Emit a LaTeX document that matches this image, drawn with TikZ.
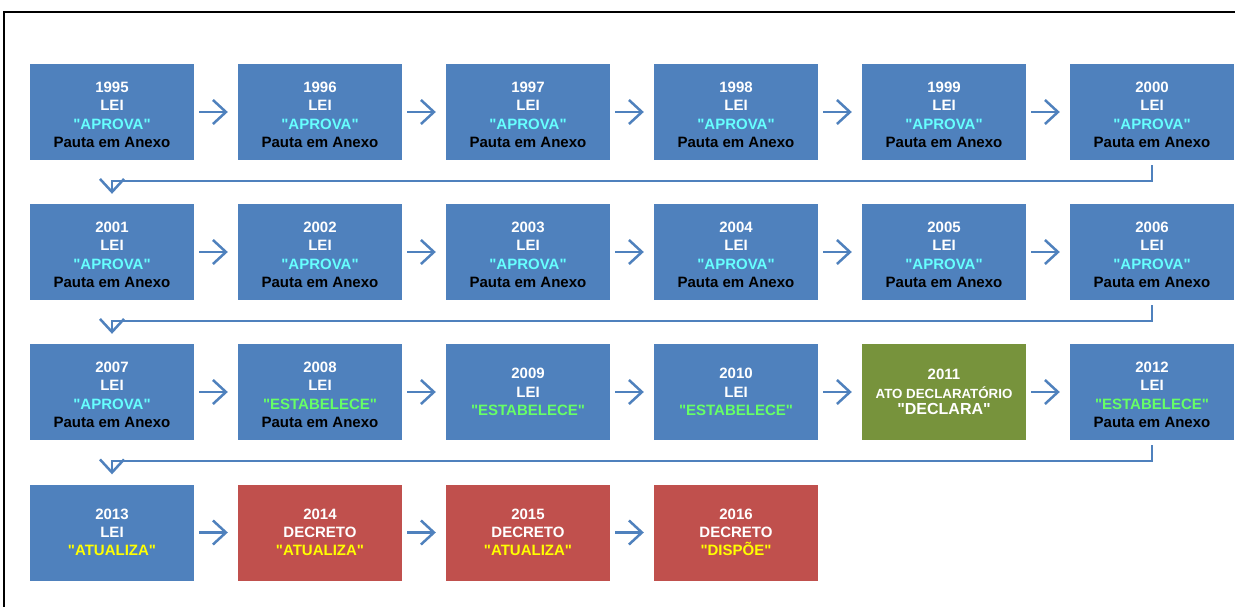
\documentclass[tikz,border=0pt]{standalone}
\usepackage{fontspec}
\setmainfont{Liberation Sans}[Ligatures=TeXOff]
\usetikzlibrary{arrows.meta}
\definecolor{bxblue}{HTML}{4F81BD}
\definecolor{bxgreen}{HTML}{77933C}
\definecolor{bxred}{HTML}{C0504D}
\definecolor{txcyan}{HTML}{66FFFF}
\definecolor{txgreen}{HTML}{66FF66}
\definecolor{txyellow}{HTML}{FFFF00}
\newcommand{\toprule}{\rule{0pt}{16pt}}
\begin{document}
\begin{tikzpicture}[x=1pt,y=-1pt,
  box/.style={minimum width=164pt,minimum height=96pt,inner sep=0pt,align=center,
    text=white,font=\fontsize{15}{18.3}\selectfont\bfseries},
  lei/.style={box,fill=bxblue},
  atobox/.style={box,fill=bxgreen},
  decbox/.style={box,fill=bxred},
  arr/.style={draw=bxblue,line width=2.5pt,-{Straight Barb[length=13pt,width=24pt]}}]
\path[use as bounding box,clip] (0,0) rectangle (1235,607);
\fill[white] (0,0) rectangle (1235,607);
\draw[line width=2pt] (4,12) rectangle (1260,640);

% row 1
\node[lei] (b1) at (112,112) {\toprule1995\\LEI\\\textcolor{txcyan}{"APROVA"}\\\textcolor{black}{Pauta em Anexo}};
\node[lei] (b2) at (320,112) {\toprule1996\\LEI\\\textcolor{txcyan}{"APROVA"}\\\textcolor{black}{Pauta em Anexo}};
\node[lei] (b3) at (528,112) {\toprule1997\\LEI\\\textcolor{txcyan}{"APROVA"}\\\textcolor{black}{Pauta em Anexo}};
\node[lei] (b4) at (736,112) {\toprule1998\\LEI\\\textcolor{txcyan}{"APROVA"}\\\textcolor{black}{Pauta em Anexo}};
\node[lei] (b5) at (944,112) {\toprule1999\\LEI\\\textcolor{txcyan}{"APROVA"}\\\textcolor{black}{Pauta em Anexo}};
\node[lei] (b6) at (1152,112) {\toprule2000\\LEI\\\textcolor{txcyan}{"APROVA"}\\\textcolor{black}{Pauta em Anexo}};
% row 2
\node[lei] (b7) at (112,252) {\toprule2001\\LEI\\\textcolor{txcyan}{"APROVA"}\\\textcolor{black}{Pauta em Anexo}};
\node[lei] (b8) at (320,252) {\toprule2002\\LEI\\\textcolor{txcyan}{"APROVA"}\\\textcolor{black}{Pauta em Anexo}};
\node[lei] (b9) at (528,252) {\toprule2003\\LEI\\\textcolor{txcyan}{"APROVA"}\\\textcolor{black}{Pauta em Anexo}};
\node[lei] (b10) at (736,252) {\toprule2004\\LEI\\\textcolor{txcyan}{"APROVA"}\\\textcolor{black}{Pauta em Anexo}};
\node[lei] (b11) at (944,252) {\toprule2005\\LEI\\\textcolor{txcyan}{"APROVA"}\\\textcolor{black}{Pauta em Anexo}};
\node[lei] (b12) at (1152,252) {\toprule2006\\LEI\\\textcolor{txcyan}{"APROVA"}\\\textcolor{black}{Pauta em Anexo}};
% row 3
\node[lei] (b13) at (112,392) {\toprule2007\\LEI\\\textcolor{txcyan}{"APROVA"}\\\textcolor{black}{Pauta em Anexo}};
\node[lei] (b14) at (320,392) {\toprule2008\\LEI\\\textcolor{txgreen}{"ESTABELECE"}\\\textcolor{black}{Pauta em Anexo}};
\node[lei] (b15) at (528,392) {2009\\LEI\\\textcolor{txgreen}{"ESTABELECE"}};
\node[lei] (b16) at (736,392) {2010\\LEI\\\textcolor{txgreen}{"ESTABELECE"}};
\node[atobox] (b17) at (944,392) {2011\\[0.5pt]{\fontsize{13.3}{15}\selectfont ATO DECLARATÓRIO}\\[-1.5pt]{\fontsize{16}{18}\selectfont "DECLARA"}};
\node[lei] (b18) at (1152,392) {\toprule2012\\LEI\\\textcolor{txgreen}{"ESTABELECE"}\\\textcolor{black}{Pauta em Anexo}};
% row 4
\node[lei] (b19) at (112,532.5) {2013\\LEI\\\textcolor{txyellow}{"ATUALIZA"}};
\node[decbox] (b20) at (320,532.5) {2014\\DECRETO\\\textcolor{txyellow}{"ATUALIZA"}};
\node[decbox] (b21) at (528,532.5) {2015\\DECRETO\\\textcolor{txyellow}{"ATUALIZA"}};
\node[decbox] (b22) at (736,532.5) {2016\\DECRETO\\\textcolor{txyellow}{"DISPÕE"}};

% arrows within rows
\foreach \a/\b in {b1/b2,b2/b3,b3/b4,b4/b5,b5/b6,
                   b7/b8,b8/b9,b9/b10,b10/b11,b11/b12,
                   b13/b14,b14/b15,b15/b16,b16/b17,b17/b18,
                   b19/b20,b20/b21,b21/b22}
  \draw[arr] ([xshift=5pt]\a.east) -- ([xshift=-10pt]\b.west);

% return connectors
\draw[arr] ([yshift=-5pt]b6.south) -- ++(0,16) -| ([yshift=10pt]b7.north);
\draw[arr] ([yshift=-5pt]b12.south) -- ++(0,16) -| ([yshift=10pt]b13.north);
\draw[arr] ([yshift=-5pt]b18.south) -- ++(0,16) -| ([yshift=10pt]b19.north);
\end{tikzpicture}
\end{document}
